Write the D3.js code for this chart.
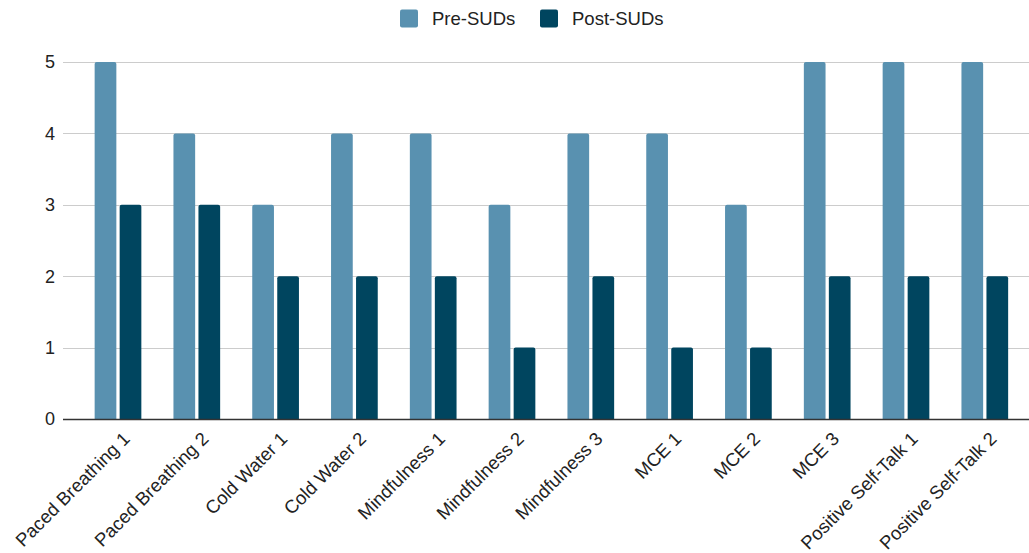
<!DOCTYPE html>
<html>
<head>
<meta charset="utf-8">
<script src="https://cdn.jsdelivr.net/npm/d3@7/dist/d3.min.js"></script>
<style>
  html, body { margin: 0; padding: 0; background: #fff; }
  svg text { font-family: "Liberation Sans", Arial, sans-serif; }
</style>
</head>
<body>
<svg id="chart" width="1029" height="553"></svg>
<script>
const categories = ["Paced Breathing 1", "Paced Breathing 2", "Cold Water 1", "Cold Water 2",
  "Mindfulness 1", "Mindfulness 2", "Mindfulness 3", "MCE 1", "MCE 2", "MCE 3",
  "Positive Self-Talk 1", "Positive Self-Talk 2"];
const preSUDs  = [5, 4, 3, 4, 4, 3, 4, 4, 3, 5, 5, 5];
const postSUDs = [3, 3, 2, 2, 2, 1, 2, 1, 1, 2, 2, 2];
const seriesNames = ["Pre-SUDs", "Post-SUDs"];
const seriesColors = ["#5991b0", "#00455f"];
const yTicks = [0, 1, 2, 3, 4, 5];

const svg = d3.select("#chart");
const gridLeft = 63, gridRight = 1029;
const y = d3.scaleLinear().domain([0, 5]).range([419, 62]);
const x = d3.scaleBand().domain(categories).range([78.6, 1024.2]).paddingInner(0).paddingOuter(0);
const barW = 21.7, gap = 3.3;

// gridlines
svg.append("g").selectAll("line").data(yTicks.filter(d => d > 0)).join("line")
  .attr("x1", gridLeft).attr("x2", gridRight)
  .attr("y1", d => Math.round(y(d)) + 0.5).attr("y2", d => Math.round(y(d)) + 0.5)
  .attr("stroke", "#cccccc").attr("stroke-width", 1);

// y tick labels
svg.append("g").selectAll("text").data(yTicks).join("text")
  .attr("x", 55).attr("y", d => y(d)).attr("dy", "0.36em")
  .attr("text-anchor", "end").attr("font-size", 18).attr("fill", "#222")
  .text(d => d);

// bars with rounded top corners
function barPath(x0, w, yTop, yBase, r) {
  r = Math.min(r, (yBase - yTop));
  return `M${x0},${yBase}V${yTop + r}Q${x0},${yTop} ${x0 + r},${yTop}H${x0 + w - r}Q${x0 + w},${yTop} ${x0 + w},${yTop + r}V${yBase}Z`;
}
const data = [preSUDs, postSUDs];
data.forEach((vals, si) => {
  svg.append("g").selectAll("path").data(vals).join("path")
    .attr("fill", seriesColors[si])
    .attr("d", (v, i) => {
      const cx = x(categories[i]) + x.bandwidth() / 2;
      const x0 = si === 0 ? cx - gap / 2 - barW : cx + gap / 2;
      return barPath(x0, barW, y(v), y(0), 2);
    });
});

// baseline axis
svg.append("line").attr("x1", gridLeft).attr("x2", gridRight)
  .attr("y1", y(0) + 0.5).attr("y2", y(0) + 0.5)
  .attr("stroke", "#333").attr("stroke-width", 1.3);

// x labels
svg.append("g").selectAll("text").data(categories).join("text")
  .attr("transform", d => `translate(${x(d) + x.bandwidth() / 2 + 13},${440}) rotate(-45)`)
  .attr("text-anchor", "end").attr("font-size", 18.5).attr("fill", "#222")
  .text(d => d);

// legend
const legend = [{name: seriesNames[0], color: seriesColors[0], sx: 400, tx: 432},
                {name: seriesNames[1], color: seriesColors[1], sx: 540, tx: 572}];
const lg = svg.append("g");
legend.forEach(l => {
  lg.append("rect").attr("x", l.sx).attr("y", 9.5).attr("width", 18).attr("height", 18)
    .attr("rx", 2).attr("fill", l.color);
  lg.append("text").attr("x", l.tx).attr("y", 18.5).attr("dy", "0.36em")
    .attr("font-size", 18.5).attr("fill", "#222").text(l.name);
});
</script>
</body>
</html>
